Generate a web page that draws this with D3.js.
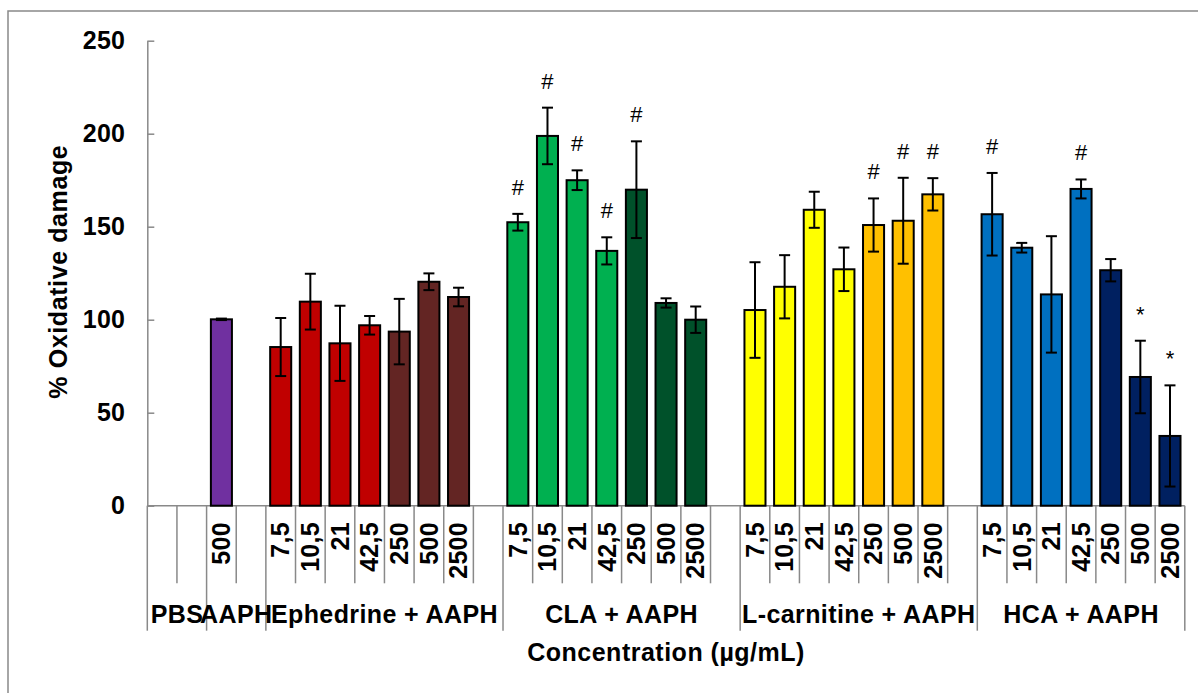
<!DOCTYPE html>
<html>
<head>
<meta charset="utf-8">
<script src="https://cdn.jsdelivr.net/npm/d3@7"></script>
<style>
  html, body { margin: 0; padding: 0; background: #fff; }
  svg { display: block; }
  text { font-family: "Liberation Sans", Arial, sans-serif; fill: #000; }
</style>
</head>
<body>
<svg id="chart" width="1198" height="693"></svg>
<script>
// Groups along the x axis and the concentration slots inside each one
const groups = ["PBS", "AAPH", "Ephedrine + AAPH", "CLA + AAPH", "L-carnitine + AAPH", "HCA + AAPH"];
const doses = ["7,5", "10,5", "21", "42,5", "250", "500", "2500"];
const pbsLabels = ["", ""];
const aaphLabels = ["500", ""];

// % oxidative damage (mean) and error (SD) per concentration
const aaph = [100.2];
const aaphErr = [0.4];
const ephedrine = [85.3, 109.7, 87.3, 97.0, 93.6, 120.4, 112.2];
const ephedrineErr = [15.6, 15.0, 20.2, 5.0, 17.6, 4.5, 5.0];
const cla = [152.4, 198.8, 175.0, 137.0, 169.9, 109.0, 100.0];
const claErr = [4.5, 15.2, 5.3, 7.3, 26.0, 2.5, 7.1];
const lcarnitine = [105.2, 117.7, 159.1, 127.1, 150.9, 153.2, 167.4];
const lcarnitineErr = [25.7, 17.0, 9.7, 11.7, 14.3, 23.1, 8.7];
const hca = [156.7, 138.7, 113.6, 170.3, 126.6, 69.2, 37.5];
const hcaErr = [22.2, 2.6, 31.3, 5.1, 6.0, 19.5, 27.2];

// Significance marks
const claMarks = ["#", "#", "#", "#", "#", "", ""];
const lcarnitineMarks = ["", "", "", "", "#", "#", "#"];
const hcaMarks = ["#", "", "", "#", "", "*", "*"];

// Fill colours: low doses (first four) and high doses (last three)
const aaphColor = "#7030A0";
const ephedrineColors = ["#C00000", "#632523"];
const claColors = ["#00B050", "#00512A"];
const lcarnitineColors = ["#FFFF00", "#FFC000"];
const hcaColors = ["#0070C0", "#002060"];

const yTicks = [0, 50, 100, 150, 200, 250];

// Build the flat list of slots
const slots = [];
function addGroup(gi, labels, vals, errs, cols, marks, pad) {
  labels.forEach((lab, i) => {
    slots.push({
      group: gi, label: lab,
      value: vals ? vals[i] : null,
      err: errs ? errs[i] : null,
      color: cols ? (typeof cols === "string" ? cols : cols[i < 4 ? 0 : 1]) : null,
      mark: marks ? marks[i] : ""
    });
  });
  if (pad) slots.push({ group: gi, label: "", value: null, err: null, color: null, mark: "" });
}
addGroup(0, pbsLabels, null, null, null, null, false);
addGroup(1, aaphLabels, aaph, aaphErr, aaphColor, null, false);
addGroup(2, doses, ephedrine, ephedrineErr, ephedrineColors, null, true);
addGroup(3, doses, cla, claErr, claColors, claMarks, true);
addGroup(4, doses, lcarnitine, lcarnitineErr, lcarnitineColors, lcarnitineMarks, true);
addGroup(5, doses, hca, hcaErr, hcaColors, hcaMarks, false);
slots.forEach((s, i) => s.idx = i);

const svg = d3.select("#chart");
const axisGray = "#898989";

// Outer frame
svg.append("rect")
  .attr("x", 8).attr("y", 11).attr("width", 1210).attr("height", 700)
  .attr("fill", "none").attr("stroke", axisGray).attr("stroke-width", 1.5);

const x0 = 147.3, x1 = 1184.8, yBase = 505.7, yTop = 40.7;
const x = d3.scaleBand().domain(slots.map(s => s.idx)).range([x0, x1])
  .paddingInner(0.29).paddingOuter(0.145);
const step = x.step();
const y = d3.scaleLinear().domain([0, 250]).range([yBase, yTop]);

// Y axis: ticks pointing inward, labels on the left
const yAxis = d3.axisLeft(y).tickValues(yTicks).tickSizeInner(-7).tickSizeOuter(0).tickPadding(22);
const gy = svg.append("g").attr("transform", `translate(${x0},0)`).call(yAxis);
gy.selectAll("path, line").attr("stroke", axisGray).attr("stroke-width", 1.5);
gy.selectAll("text")
  .style("font-family", '"Liberation Sans", Arial, sans-serif')
  .style("font-size", "25px").style("font-weight", "bold").style("letter-spacing", "0.3px")
  .attr("fill", "#000");

// X axis line
svg.append("line").attr("x1", x0).attr("x2", x1).attr("y1", yBase).attr("y2", yBase)
  .attr("stroke", axisGray).attr("stroke-width", 1.5);

// Slot and group separators
const boundaries = [];
for (let i = 0; i <= slots.length; i++) {
  const isGroup = i === 0 || i === slots.length || slots[i].group !== slots[i - 1].group;
  boundaries.push({ pos: x0 + i * step, isGroup });
}
svg.append("g").selectAll("line").data(boundaries).join("line")
  .attr("x1", d => d.pos).attr("x2", d => d.pos)
  .attr("y1", yBase).attr("y2", d => d.isGroup ? 630.7 : 583.3)
  .attr("stroke", axisGray).attr("stroke-width", 1.5);

// Bars
const barData = slots.filter(s => s.value != null);
svg.append("g").selectAll("rect").data(barData).join("rect")
  .attr("x", d => x(d.idx)).attr("width", x.bandwidth())
  .attr("y", d => y(d.value)).attr("height", d => y(0) - y(d.value))
  .attr("fill", d => d.color).attr("stroke", "#000").attr("stroke-width", 2);

// Error bars
const cap = 5.5;
const eg = svg.append("g").attr("stroke", "#000").attr("stroke-width", 2);
barData.forEach(d => {
  const cx = x(d.idx) + x.bandwidth() / 2;
  const hi = y(d.value + d.err), lo = y(d.value - d.err);
  eg.append("line").attr("x1", cx).attr("x2", cx).attr("y1", hi).attr("y2", lo);
  eg.append("line").attr("x1", cx - cap).attr("x2", cx + cap).attr("y1", hi).attr("y2", hi);
  eg.append("line").attr("x1", cx - cap).attr("x2", cx + cap).attr("y1", lo).attr("y2", lo);
});

// Significance marks
svg.append("g").selectAll("text").data(barData.filter(d => d.mark)).join("text")
  .attr("x", d => x(d.idx) + x.bandwidth() / 2)
  .attr("y", d => y(d.value + d.err) - 19)
  .attr("text-anchor", "middle")
  .style("font-size", "22px")
  .text(d => d.mark);

// Concentration labels (rotated)
svg.append("g").selectAll("text").data(slots.filter(s => s.label)).join("text")
  .attr("transform", d => `translate(${x(d.idx) + x.bandwidth() / 2},522) rotate(-90)`)
  .attr("text-anchor", "end").attr("dy", "0.35em")
  .style("font-size", "25px").style("font-weight", "bold").style("letter-spacing", "0.3px")
  .text(d => d.label);

// Group labels
const groupRanges = groups.map((g, gi) => {
  const members = slots.filter(s => s.group === gi);
  return { name: g, start: x0 + members[0].idx * step, end: x0 + (members[members.length - 1].idx + 1) * step };
});
svg.append("g").selectAll("text").data(groupRanges).join("text")
  .attr("x", d => (d.start + d.end) / 2).attr("y", 623)
  .attr("text-anchor", "middle")
  .style("font-size", "25px").style("font-weight", "bold").style("letter-spacing", "0.4px")
  .text(d => d.name);

// Axis titles
svg.append("text")
  .attr("x", (x0 + x1) / 2).attr("y", 661)
  .attr("text-anchor", "middle")
  .style("font-size", "25px").style("font-weight", "bold").style("letter-spacing", "0.5px")
  .text("Concentration (µg/mL)");

svg.append("text")
  .attr("transform", "translate(66.5,271.7) rotate(-90)")
  .attr("text-anchor", "middle")
  .style("font-size", "25px").style("font-weight", "bold").style("letter-spacing", "0.6px")
  .text("% Oxidative damage");
</script>
</body>
</html>
